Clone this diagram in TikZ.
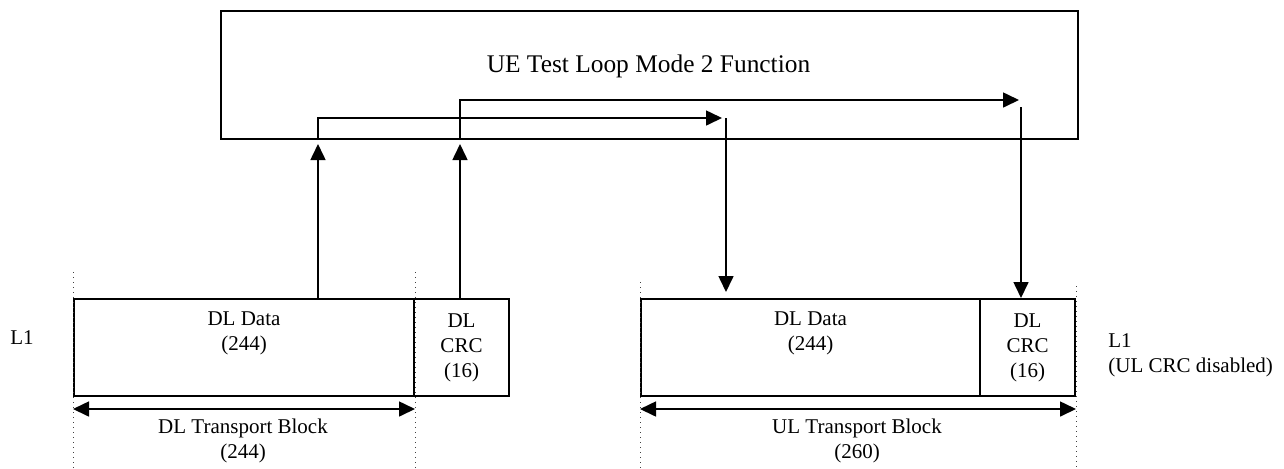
\documentclass[tikz,border=0pt]{standalone}
\usepackage{fontspec}
\setmainfont{Liberation Serif}
\usetikzlibrary{arrows.meta}
\begin{document}
\begin{tikzpicture}[x=0.5pt,y=-0.5pt,
  blk/.style={draw, line width=1pt, inner sep=0pt, anchor=north west, align=center,
    minimum height=48.5pt, font=\fontsize{10.5}{12.5}\selectfont},
  arr/.style={line width=0.8pt, -{Triangle[length=8pt,width=7.5pt]}},
  dim/.style={line width=0.8pt, {Triangle[length=8pt,width=7.5pt]}-{Triangle[length=8pt,width=7.5pt]}},
  guide/.style={dotted, line width=0.5pt, black!75},
  lbl/.style={inner sep=0pt, align=center, font=\fontsize{10.5}{12.5}\selectfont}]
\useasboundingbox (0,0) rectangle (1284,468);

% top function box
\node[draw, line width=1pt, anchor=north west, minimum width=428.5pt, minimum height=64pt, inner sep=0pt] (ue) at (220,10) {};
\node[inner sep=0pt, anchor=base, font=\fontsize{12.7}{15}\selectfont] (title) at (648.5,72) {UE Test Loop Mode 2 Function};

% DL transport block
\node[blk, minimum width=170pt] (dld) at (73,298) {DL Data\\(244)\\\strut};
\node[blk, minimum width=47.5pt] (dlc) at (413,298) {DL\\CRC\\(16)};
% UL transport block
\node[blk, minimum width=169.5pt] (uld) at (640,298) {DL Data\\(244)\\\strut};
\node[blk, minimum width=47.5pt] (ulc) at (979,298) {DL\\CRC\\(16)};

% side labels
\node[lbl, anchor=west] (l1a) at (10,338) {L1};
\node[lbl, anchor=north west, align=left] (l1b) at (1108,333) {L1\\(UL CRC disabled)};

% guide lines
\draw[guide] ([yshift=13pt]dld.north west) -- (dld.north west |- 0,468);
\draw[guide] ([yshift=13pt]dld.north east) -- (dld.north east |- 0,468);
\draw[guide] ([yshift=8pt]uld.north west) -- (uld.north west |- 0,468);
\draw[guide] ([yshift=6pt]ulc.north east) -- (ulc.north east |- 0,468);

% dimension arrows
\draw[dim] ([yshift=-6pt]dld.south west) -- ([yshift=-6pt]dld.south east);
\draw[dim] ([yshift=-6pt]uld.south west) -- ([yshift=-6pt]ulc.south east);
\node[lbl, anchor=north] (dltb) at (243,419) {DL Transport Block\\(244)};
\node[lbl, anchor=north] (ultb) at (857,419) {UL Transport Block\\(260)};

% data path
\coordinate (a1) at (318,144);
\coordinate (c1) at (318,118);
\coordinate (d1) at (722,118);
\coordinate (e1) at (726,118);
\draw[arr] (dld.north -| a1) -- (a1);
\draw[arr] (ue.south -| a1) -- (c1) -- (d1);
\draw[arr, shorten >=3pt] (e1) -- (uld.north -| e1);

% CRC path
\coordinate (a2) at (460,144);
\coordinate (c2) at (460,100);
\coordinate (d2) at (1019,100);
\coordinate (e2) at (1021,107);
\draw[arr] (dlc.north -| a2) -- (a2);
\draw[arr] (ue.south -| a2) -- (c2) -- (d2);
\draw[arr] (e2) -- (ulc.north -| e2);
\end{tikzpicture}
\end{document}
